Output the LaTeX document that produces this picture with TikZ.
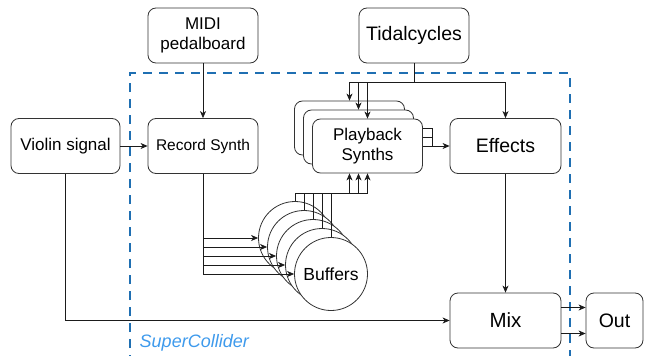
\documentclass[tikz,border=0pt]{standalone}
\usepackage{fontspec}
\setsansfont{Liberation Sans}
\usepackage{tikz}
\usetikzlibrary{arrows.meta,positioning,calc}
\definecolor{ink}{HTML}{1B1B1B}
\definecolor{edge}{HTML}{333333}
\definecolor{scblue}{HTML}{1F6FB2}
\definecolor{sctext}{HTML}{3E9AEC}
\tikzset{
  >={Stealth[length=7pt,width=6pt,inset=2pt]},
  every picture/.style={line width=0.8pt,font=\sffamily},
  bx/.style={draw=edge,fill=white,rounded corners=8pt,align=center,inner sep=2pt,
    minimum width=110pt,minimum height=55pt,font=\sffamily\fontsize{17}{20}\selectfont},
  bxl/.style={bx,font=\sffamily\fontsize{19.5}{22}\selectfont},
  buf/.style={circle,draw=edge,fill=white,minimum size=73pt,inner sep=0pt,
    font=\sffamily\fontsize{17.5}{20}\selectfont},
  arr/.style={->,draw=ink},
  sc/.style={draw=scblue,line width=2.6pt,dash pattern=on 9pt off 7pt},
  sclab/.style={anchor=west,text=sctext,font=\sffamily\itshape\fontsize{18}{20}\selectfont},
}
\begin{document}
\begin{tikzpicture}[x=1pt,y=-1pt]
  \useasboundingbox (0,0) rectangle (651,356);
  % SuperCollider frame
  \draw[sc] (130,380) -- (130,73) -- (570,73) -- (570,380);
  \node[sclab] (sc) at (136,343) {SuperCollider};
  \node[bx] (midi) at (203,35.5) {MIDI\\pedalboard};
  \node[bxl] (tidal) at (414,35.5) {Tidalcycles};
  \node[bx,minimum width=109pt] (violin) at (65.5,146) {Violin signal};
  \node[bx,font=\sffamily\fontsize{15.5}{18}\selectfont] (rec) at (203,146) {Record Synth};
  \foreach \n/\d in {pb3/0,pb2/9}
    \node[bx,minimum height=54pt] (\n) at (349.5+\d,128+\d) {};
  \node[bx,minimum height=54pt] (pb1) at (367.5,146) {Playback\\Synths};
  \node[bxl,minimum width=111pt] (fx) at (505.5,146) {Effects};
  \node[bxl,minimum width=111pt,font=\sffamily\fontsize{20.5}{22}\selectfont] (mix) at (505.5,320.5) {Mix};
  \node[bxl,minimum width=57pt] (out) at (614.5,320.5) {Out};
  \foreach \i in {1,...,4}
    \node[buf] (b\i) at (286+9*\i,229+9*\i) {};
  \node[buf] (b5) at (331,274) {Buffers};
  % connections
  \draw[arr] (midi) -- (rec);
  \draw[arr] (violin) -- (rec);
  \draw[arr] (violin.south) |- (mix.west);
  \foreach \n in {pb3,pb2,pb1,fx} \draw[arr] (tidal.south) -- ++(0,19) -| (\n.north);
  \foreach \i in {1,...,5} \draw[arr] (rec.south) |- (b\i.west);
  \coordinate (bbus) at (0,193);
  \foreach \i in {1,...,5} \draw[ink] (b\i.north) -- (b\i.north |- bbus);
  \draw[ink] (b1.north |- bbus) -- (pb1.south |- bbus);
  \foreach \n in {pb3,pb2,pb1} \draw[arr] (\n.south |- bbus) -- (\n.south |- pb1.south);
  \coordinate (pbj) at ([xshift=9pt]pb1.east);
  \foreach \n in {pb3,pb2} \draw[ink] (pb1.east |- \n.east) -| (pbj);
  \draw[arr] (pb1.east) -- (fx.west);
  \draw[arr] (fx) -- (mix);
  \draw[arr] ([yshift=13pt]mix.east) -- ([yshift=13pt]out.west);
  \draw[arr] ([yshift=-13pt]mix.east) -- ([yshift=-13pt]out.west);
\end{tikzpicture}
\end{document}
